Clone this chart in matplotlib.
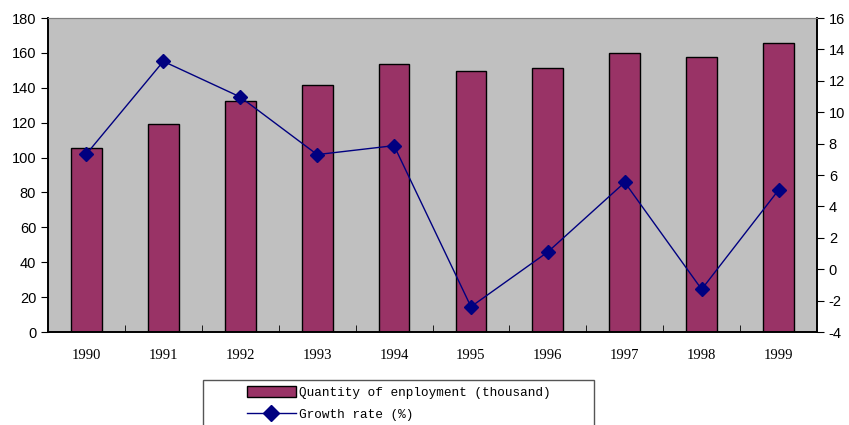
import matplotlib
matplotlib.use("Agg")
import matplotlib.pyplot as plt
import numpy as np
from matplotlib.patches import Rectangle

plt.rcParams["axes.unicode_minus"] = False

years = ["1990", "1991", "1992", "1993", "1994", "1995", "1996", "1997", "1998", "1999"]
employment = [105.3, 119.0, 132.3, 141.8, 153.5, 149.7, 151.6, 159.8, 157.7, 165.9]
growth = [7.34, 13.24, 10.97, 7.3, 7.87, -2.39, 1.1, 5.53, -1.28, 5.04]

W, H = 849, 425
fig = plt.figure(figsize=(W / 100, H / 100), dpi=100)
ax = fig.add_axes([48 / W, (H - 332) / H, 769 / W, 314 / H])
ax.set_facecolor("#C0C0C0")

x = np.arange(len(years))
ax.bar(x, employment, width=0.4, color="#993366", edgecolor="black", linewidth=1, zorder=2)
ax.set_xlim(-0.5, len(years) - 0.5)
ax.set_ylim(0, 180)
ax.set_yticks(range(0, 181, 20))
ax.set_xticks(x)
ax.set_xticklabels(years, family="Liberation Serif", fontsize=10.5)
ax.set_xticks(np.arange(0.5, len(years) - 1, 1), minor=True)
ax.tick_params(axis="x", which="major", length=0, pad=12)
ax.tick_params(axis="x", which="minor", direction="in", length=5, color="black")
ax.tick_params(axis="y", direction="out", length=5, labelsize=10.5)
for lab in ax.get_yticklabels():
    lab.set_family("Liberation Sans")

ax2 = ax.twinx()
ax2.plot(x, growth, color="#000080", linewidth=1, marker="D", markersize=7,
         markerfacecolor="#000080", markeredgecolor="#000080", zorder=3)
ax2.set_ylim(-4, 16)
ax2.set_yticks(range(-4, 17, 2))
ax2.tick_params(axis="y", direction="out", length=5, labelsize=10.5)
for lab in ax2.get_yticklabels():
    lab.set_family("Liberation Sans")

for a in (ax, ax2):
    a.spines["top"].set_color("#808080")
    for s in ("left", "bottom", "right"):
        a.spines[s].set_color("black")
        a.spines[s].set_linewidth(1.2)

# legend box (runs off the bottom of the figure like the original)
fig.patches.append(Rectangle((203 / W, -0.05), (594 - 203) / W, (H - 380) / H + 0.05,
                             transform=fig.transFigure, facecolor="white",
                             edgecolor="#555555", linewidth=1))
handles = [Rectangle((0, 0), 1, 1, facecolor="#993366", edgecolor="black"),
           plt.Line2D([], [], color="#000080", linewidth=1, marker="D", markersize=8,
                      markerfacecolor="#000080")]
fig.legend(handles, ["Quantity of enployment (thousand)", "Growth rate (%)"],
           loc="upper left", bbox_to_anchor=(247 / W, (H - 386) / H), frameon=False,
           prop={"family": "Liberation Mono", "size": 9.2}, handlelength=3.8,
           handleheight=0.9, handletextpad=0.3, labelspacing=0.72, borderpad=0,
           borderaxespad=0)

fig.savefig("out.png", dpi=100)
